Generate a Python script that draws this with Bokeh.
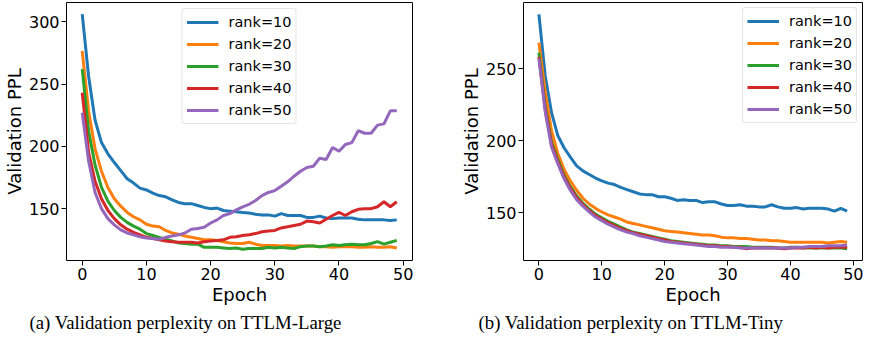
from bokeh.plotting import figure
from bokeh.layouts import row
from bokeh.models import FixedTicker, Title, Legend, LegendItem, Range1d
from bokeh.embed import file_html
from bokeh.resources import INLINE

epochs = list(range(50))
series_labels = ["rank=10", "rank=20", "rank=30", "rank=40", "rank=50"]
colors = ["#1f77b4", "#ff7f0e", "#2ca02c", "#d62728", "#9467bd"]

# (a) TTLM-Large
large_r10 = [306, 256, 221, 203, 194, 187, 180.5, 174, 170.5, 166.5,
             165, 162.5, 160.5, 159.5, 157, 155, 154, 154, 152.5, 151,
             150, 150.5, 148.5, 148, 147.5, 147, 146.5, 145.5, 145, 145,
             144, 146, 144.5, 144.5, 144.5, 143, 143, 144, 142.5, 142,
             142.5, 142.5, 142.5, 141.5, 141, 141, 141, 141, 140.5, 141]
large_r20 = [276.5, 228, 198, 180, 167, 158, 152, 147, 143.5, 141,
             137.5, 136, 135.5, 132.5, 130.5, 129.5, 128, 127, 126, 125,
             125, 124.5, 123.5, 122.5, 122, 122, 123, 121.5, 120.5, 120.5,
             120.5, 120, 120.5, 120, 120, 120, 120, 119.5, 119.5, 119,
             119.5, 119.5, 119.5, 119, 119, 119.5, 119, 119, 119.5, 118.5]
large_r30 = [262, 212, 185, 167, 156, 148.5, 143, 139, 136, 133.5,
             130, 128.5, 127, 125.5, 124, 122.5, 122, 121.5, 121.5, 119,
             119, 119, 118.5, 118, 118.5, 117.5, 118, 118, 118, 119,
             118.5, 119, 118.5, 118, 119.5, 120, 120, 119.5, 120, 121,
             120.5, 121, 121.5, 121, 121, 122, 123.5, 121.5, 123, 124.5]
large_r40 = [243, 195, 172, 158, 148.5, 142, 137, 133.5, 131, 129,
             127, 126, 125, 124, 123.5, 123, 123, 123, 122.5, 123.5,
             124, 124.5, 125, 127, 127.5, 128.5, 129, 130, 131.5, 132,
             132.5, 134.5, 135.5, 136.5, 137.5, 140, 139.5, 138.5, 141.5, 144.5,
             147, 144.5, 147.5, 149.5, 150, 150, 151.5, 155.5, 151.5, 155.5]
large_r50 = [227, 188, 163, 150, 142, 137, 133, 130.5, 129, 127.5,
             126.5, 126, 125.5, 127, 128, 129, 130.5, 133.5, 134, 135,
             138.5, 141, 144.5, 146, 149, 151.5, 153.5, 156.5, 160.5, 163,
             164.5, 168, 171.5, 176, 180, 183, 184, 190.5, 189.5, 199,
             196, 201.5, 203, 212.5, 210.5, 210.5, 217, 218, 228.5, 228.5]

# (b) TTLM-Tiny
tiny_r10 = [287.5, 245, 219.5, 203.5, 195, 188.5, 182.5, 179, 176.5, 174,
            172, 170.5, 169.5, 167.5, 166, 164.5, 163, 162.5, 162.5, 161,
            161, 160, 158.5, 159, 158.5, 158.5, 157, 157.5, 157.5, 156,
            155, 155, 155.5, 154.5, 154.5, 154, 154, 155.5, 154, 153,
            153, 153.5, 152.5, 153, 153, 153, 152.5, 151, 153, 151]
tiny_r20 = [268, 234, 207, 191, 180, 172, 165.5, 160, 156, 153,
            150.5, 148.5, 147, 145.5, 143.5, 142.5, 141.5, 140.5, 139.5, 138.5,
            137.5, 137, 136.5, 136, 135.5, 135, 134.5, 134.5, 134, 133,
            132.5, 132.5, 132, 132, 131.5, 131, 131, 130.5, 130.5, 130,
            129.5, 129.5, 129.5, 129.5, 129.5, 129.5, 129, 129.5, 130, 129.5]
tiny_r30 = [261, 224, 199, 187, 176, 168, 161.5, 156.5, 152.5, 149,
            146.5, 144, 142, 140, 138, 136.5, 135.5, 134.5, 133.5, 132.5,
            131.5, 130.5, 130, 129.5, 129, 128.5, 128, 127.5, 127.5, 127,
            127, 126.5, 126.5, 126.5, 126, 126, 126, 126, 125.5, 125.5,
            126, 126, 125.5, 125.5, 125.5, 125.5, 125.5, 125.5, 125.5, 125]
tiny_r40 = [258, 222, 197.5, 185.5, 175, 167, 160.5, 155.5, 151.5, 148,
            145.5, 143, 141, 139, 137.5, 136, 135, 134, 133, 132,
            131, 130, 129.5, 129, 128.5, 128, 127.5, 127, 127, 126.5,
            126.5, 126, 126, 125, 125.5, 125.5, 125.5, 125.5, 125.5, 125,
            125.5, 125.5, 125.5, 126, 125.5, 126, 125.5, 126, 126, 126]
tiny_r50 = [257, 220, 195.5, 184, 173.5, 165.5, 159, 154.5, 150.5, 147,
            144.5, 142, 140, 138, 136.5, 135.5, 134, 133, 132, 131,
            130, 129.5, 129, 128.5, 128, 127.5, 127, 126.5, 126.5, 126,
            126, 126, 125.5, 125.5, 125.5, 125.5, 125.5, 125.5, 125.5, 125.5,
            125.5, 126, 126, 126.5, 126.5, 126.5, 127, 127, 127, 127.5]

x_ticks = [0, 10, 20, 30, 40, 50]
large_y_ticks = [150, 200, 250, 300]
tiny_y_ticks = [150, 200, 250]

caption_a = "(a) Validation perplexity on TTLM-Large"
caption_b = "(b) Validation perplexity on TTLM-Tiny"

FONT = "DejaVu Sans"


def make_plot(series, y_range, y_ticks, frame_w, border_left, border_right,
              legend_loc, legend_margin, caption, caption_offset):
    p = figure(frame_width=frame_w, frame_height=258,
               output_backend="svg", toolbar_location=None,
               x_range=Range1d(-2.45, 51.45), y_range=Range1d(*y_range),
               min_border_left=border_left, min_border_right=border_right,
               min_border_top=2, min_border_bottom=80)
    p.xgrid.grid_line_color = None
    p.ygrid.grid_line_color = None
    p.outline_line_color = "black"
    p.outline_line_width = 1
    p.background_fill_color = "white"
    p.border_fill_color = "white"

    items = []
    for vals, col, lab in zip(series, colors, series_labels):
        r = p.line(epochs, vals, line_color=col, line_width=3)
        items.append(LegendItem(label=lab, renderers=[r]))

    p.xaxis.ticker = FixedTicker(ticks=x_ticks)
    p.yaxis.ticker = FixedTicker(ticks=y_ticks)
    for ax in (p.xaxis[0], p.yaxis[0]):
        ax.axis_line_color = None
        ax.major_tick_in = 0
        ax.major_tick_out = 5
        ax.major_tick_line_color = "black"
        ax.minor_tick_line_color = None
        ax.major_label_text_font = FONT
        ax.major_label_text_font_size = "16px"
        ax.major_label_text_color = "black"
        ax.major_label_standoff = 2
        ax.axis_label_text_font = FONT
        ax.axis_label_text_font_size = "18px"
        ax.axis_label_text_font_style = "normal"
        ax.axis_label_text_color = "black"
        ax.axis_label_standoff = 1
    p.xaxis.axis_label = "Epoch"
    p.yaxis.axis_label = "Validation PPL"

    legend = Legend(items=items, location=legend_loc, margin=legend_margin,
                    padding=4, spacing=4, glyph_width=32, glyph_height=18,
                    label_height=18, label_standoff=10,
                    label_text_font=FONT, label_text_font_size="14.5px",
                    label_text_color="black",
                    border_line_color="#cccccc", border_line_width=1,
                    background_fill_color="white", background_fill_alpha=0.8)
    if "border_radius" in Legend.properties():
        legend.border_radius = 3
    p.add_layout(legend)

    title = Title(text=caption, align="left", offset=caption_offset,
                  text_font="Liberation Serif", text_font_size="18.8px",
                  text_font_style="normal", text_color="black", standoff=5)
    p.add_layout(title, "below")
    return p


left = make_plot([large_r10, large_r20, large_r30, large_r40, large_r50],
                 (108.4, 315.4), large_y_ticks, 346, 62, 20,
                 "top_center", 6, caption_a, -37)
right = make_plot([tiny_r10, tiny_r20, tiny_r30, tiny_r40, tiny_r50],
                  (116.8, 295.8), tiny_y_ticks, 339, 91, 3,
                  "top_right", 5, caption_b, -45)

layout = row(left, right)
open("out.html", "w").write(file_html(layout, INLINE))
